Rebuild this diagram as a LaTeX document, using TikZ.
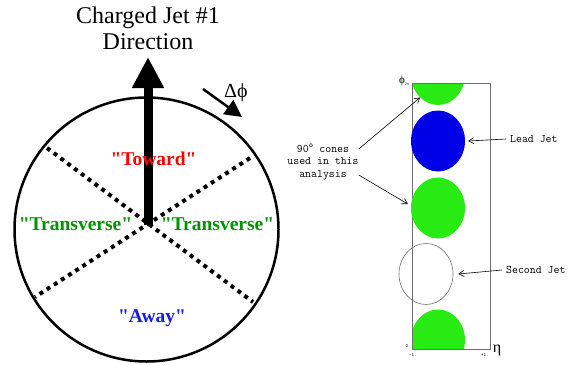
\documentclass[tikz,border=0pt]{standalone}
\usepackage{fontspec}
\setmainfont{Liberation Serif}
\usepackage{xcolor}
\usetikzlibrary{arrows.meta, positioning, calc, shapes.geometric}
\definecolor{towardred}{RGB}{255, 0, 0}
\definecolor{transgreen}{RGB}{0, 145, 0}
\definecolor{awayblue}{RGB}{25, 25, 235}
\definecolor{conegreen}{RGB}{40, 235, 20}
\definecolor{leadblue}{RGB}{0, 0, 230}
\definecolor{framegray}{RGB}{110, 110, 110}
\newcommand{\qt}[1]{\textquotedbl#1\textquotedbl}

\begin{document}
\begin{tikzpicture}[x=1pt, y=-1pt,
  region/.style={font=\fontsize{19.5}{20}\selectfont\bfseries, inner sep=0pt, anchor=base},
  cone/.style={ellipse, minimum width=54pt, minimum height=61pt, inner sep=0pt},
  note/.style={font=\fontsize{11.5}{12.5}\selectfont\ttfamily, inner sep=0pt},
  tick/.style={font=\fontsize{5}{5}\selectfont\ttfamily, inner sep=0pt},
  pointer/.style={->, line width=0.6pt},
  >={Straight Barb[length=5pt, width=6pt]}
]
  \useasboundingbox (0,0) rectangle (570,364);

  % left: regions around the jet direction
  \coordinate (ctr) at (148,225);
  \coordinate (tip) at (148,57);
  \draw[line width=2.5pt] (146.5,229.5) circle[radius=132];

  \coordinate (ul) at (47,148);
  \coordinate (lr) at (253,302);
  \coordinate (ur) at (250,158);
  \coordinate (ll) at (35,297);
  \draw[line width=4pt, dash pattern=on 4pt off 4.5pt] (ul) -- (lr);
  \draw[line width=4pt, dash pattern=on 4pt off 4.5pt] (ur) -- (ll);

  \draw[line width=9pt, -{Triangle[length=31pt, width=30pt]}] (ctr) -- (tip);

  \node[font=\fontsize{24}{25.5}\selectfont, align=center, anchor=base] (jetdir)
    at (148,49) {Charged Jet \#1\\Direction};

  \node[region, text=towardred]  (toward) at (153.5,165) {\qt{Toward}};
  \node[region, text=transgreen] (transl) at (75.5,230)  {\qt{Transverse}};
  \node[region, text=transgreen] (transr) at (217.5,230) {\qt{Transverse}};
  \node[region, text=awayblue]   (away)   at (152,322)   {\qt{Away}};

  \coordinate (dstart) at (203,89);
  \coordinate (dend)   at (242,117);
  \draw[line width=2.5pt, -{Triangle[length=17pt, width=17pt]}] (dstart) -- (dend);
  \node[font=\fontsize{20}{20}\selectfont, inner sep=0pt, anchor=base west] (dphi)
    at (224,97) {Δϕ};

  % right: eta-phi plane with the cones
  \begin{scope}
    \clip (412,83) rectangle (490,349);
    \node[cone, fill=conegreen] (gtop) at (438,74.5) {};
    \node[cone, fill=conegreen] (gbot) at (438,340) {};
  \end{scope}
  \draw[framegray, line width=0.7pt] (412,83) rectangle (490,349);
  \node[cone, fill=leadblue]  (lead)   at (438,141) {};
  \node[cone, fill=conegreen] (gmid)   at (438,208) {};
  \node[cone, draw=framegray, line width=0.6pt] (second) at (426,274) {};

  \node[inner sep=0pt] (phi) at (404,81)
    {\fontsize{11}{11}\selectfont ϕ\raisebox{-1.5pt}{\fontsize{4}{4}\selectfont 2π}};
  \node[tick] (zero)   at (407,346) {0};
  \node[tick] (etalo)  at (413,355) {-1.};
  \node[tick] (etahi)  at (485,355) {+1.};
  \node[font=\fontsize{16}{16}\selectfont, inner sep=0pt] (eta) at (497,350) {η};

  \node[note, anchor=west] (leadlabel)   at (510,139) {Lead Jet};
  \node[note, anchor=west] (secondlabel) at (506,270) {Second Jet};
  \node[note, align=center] (cones) at (323,162)
    {90\textsuperscript{o} cones\\used in this\\analysis};

  \draw[pointer] ([xshift=-4pt]leadlabel.west) -- ([xshift=3pt]lead.east);
  \draw[pointer] ([xshift=-4pt]secondlabel.west) -- ([xshift=5pt]second.east);
  \draw[pointer] (cones.20) -- (gtop.232);
  \draw[pointer] (cones.-20) -- ([xshift=-3pt, yshift=4pt]gmid.west);
\end{tikzpicture}
\end{document}
